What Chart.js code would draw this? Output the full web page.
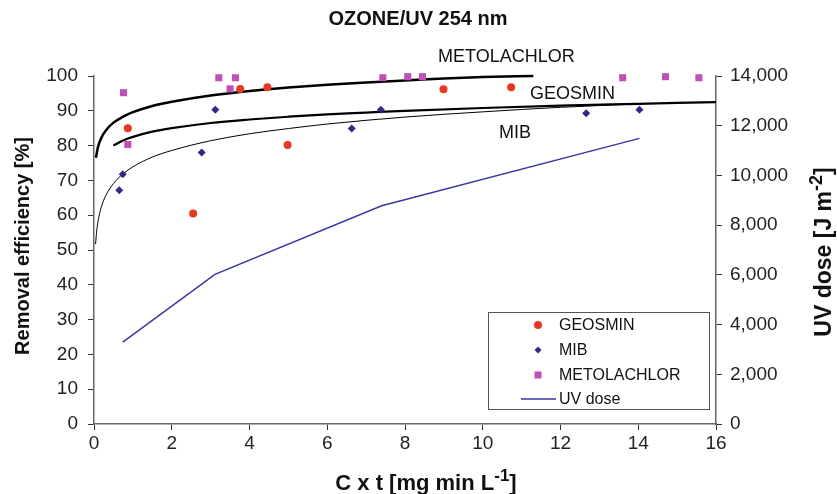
<!DOCTYPE html>
<html>
<head>
<meta charset="utf-8">
<script src="https://cdn.jsdelivr.net/npm/chart.js@4.4.1/dist/chart.umd.min.js"></script>
<style>
html,body{margin:0;padding:0;background:#fff;}
#wrap{width:837px;height:494px;position:relative;}
</style>
</head>
<body>
<div id="wrap"><canvas id="c" width="837" height="494"></canvas></div>
<script>
// ---- data ----
const geosminCt      = [0.87, 2.55, 3.76, 4.46, 4.98, 8.99, 10.73];
const geosminRemoval = [85.0, 60.5, 96.3, 96.8, 80.2, 96.2, 96.8];

const mibCt      = [0.65, 0.74, 2.77, 3.12, 6.63, 7.38, 12.66, 14.03];
const mibRemoval = [67.2, 71.8, 78.0, 90.3, 84.9, 90.3, 89.3, 90.3];

const metoCt      = [0.76, 0.87, 3.21, 3.50, 3.64, 7.43, 8.07, 8.45, 13.60, 14.70, 15.56];
const metoRemoval = [95.2, 80.3, 99.5, 96.3, 99.5, 99.5, 99.8, 99.8, 99.5, 99.8, 99.5];

const uvCt   = [0.74, 3.11, 7.40, 14.03];
const uvDose = [3290, 6020, 8780, 11490];

// fitted trend curves
const metoFitCt      = [0.05, 0.1, 0.2, 0.3, 0.5, 0.75, 1, 1.5, 2, 3, 4, 5, 6, 7, 8, 9, 10, 11.3];
const metoFitRemoval = [76.5, 79.5, 82.5, 84.3, 86.6, 88.3, 89.6, 91.4, 92.6, 94.4, 95.7, 96.7, 97.5, 98.1, 98.7, 99.3, 99.7, 100.0];

const geosminFitCt      = [0.5, 0.75, 1, 1.5, 2, 3, 4, 5, 6, 7, 8, 10, 12, 14, 16];
const geosminFitRemoval = [80.0, 81.5, 82.5, 84.0, 85.0, 86.5, 87.5, 88.3, 89.0, 89.5, 90.0, 90.8, 91.5, 92.0, 92.5];

const mibFitCt      = [0.04, 0.07, 0.1, 0.15, 0.2, 0.3, 0.5, 0.75, 1, 1.5, 2, 3, 4, 5, 6, 8, 10, 12, 14.05];
const mibFitRemoval = [51.7, 55.6, 58.0, 60.8, 62.8, 65.6, 69.1, 71.9, 73.9, 76.7, 78.6, 81.4, 83.4, 84.9, 86.2, 88.2, 89.7, 91.0, 92.0];

const xTickStep = 2, xMin = 0, xMax = 16;
const yTickStep = 10, yMin = 0, yMax = 100;
const y2TickStep = 2000, y2Min = 0, y2Max = 14000;

const titleText = 'OZONE/UV 254 nm';
const yTitle = 'Removal efficiency [%]';
const legendLabels = ['GEOSMIN', 'MIB', 'METOLACHLOR', 'UV dose'];
const curveLabels = ['METOLACHLOR', 'GEOSMIN', 'MIB'];

// ---- helpers ----
const pts = (xs, ys) => xs.map((x, i) => ({x: x, y: ys[i]}));
const FONT = '"Liberation Sans", Arial, Helvetica, sans-serif';
const RED = '#e8381f', NAVY = '#2e2a85', MAG = '#c04fb9', UVC = '#3a36a6';

function drawPieces(ctx, pieces, cx, baseY, size, supSize, supRise) {
  let total = 0;
  pieces.forEach(p => {
    ctx.font = 'bold ' + (p.sup ? supSize : size) + 'px ' + FONT;
    p.w = ctx.measureText(p.t).width;
    total += p.w;
  });
  let x = cx - total / 2;
  ctx.textAlign = 'left';
  ctx.textBaseline = 'alphabetic';
  pieces.forEach(p => {
    ctx.font = 'bold ' + (p.sup ? supSize : size) + 'px ' + FONT;
    ctx.fillText(p.t, x, p.sup ? baseY - supRise : baseY);
    x += p.w;
  });
}

const textPlugin = {
  id: 'texts',
  afterDraw(chart) {
    const ctx = chart.ctx;
    ctx.save();
    ctx.fillStyle = '#111';
    // title
    ctx.font = 'bold 20px ' + FONT;
    ctx.textAlign = 'center';
    ctx.textBaseline = 'middle';
    ctx.fillText(titleText, 418, 19);
    // left title
    ctx.save();
    ctx.translate(23, 246);
    ctx.rotate(-Math.PI / 2);
    ctx.fillText(yTitle, 0, 0);
    ctx.restore();
    // right title
    ctx.save();
    ctx.translate(831, 252);
    ctx.rotate(-Math.PI / 2);
    drawPieces(ctx, [{t: 'UV dose [J m'}, {t: '-2', sup: true}, {t: ']'}], 0, 0, 23, 18, 9);
    ctx.restore();
    // x title
    drawPieces(ctx, [{t: 'C x t [mg min L'}, {t: '-1', sup: true}, {t: ']'}], 426, 490, 22, 17, 9);

    // curve labels
    ctx.font = '18px ' + FONT;
    ctx.fillStyle = '#111';
    ctx.textAlign = 'left';
    ctx.textBaseline = 'middle';
    ctx.fillText(curveLabels[0], 438, 57);
    ctx.fillText(curveLabels[1], 530, 94);
    ctx.fillText(curveLabels[2], 499, 133);

    // legend box
    ctx.strokeStyle = '#555';
    ctx.lineWidth = 1;
    ctx.strokeRect(488.5, 312.5, 221, 97);
    ctx.font = '16px ' + FONT;
    const ys = [325, 350, 375, 399];
    const mx = 538;
    ctx.fillStyle = RED;
    ctx.beginPath(); ctx.arc(mx, ys[0], 4, 0, Math.PI * 2); ctx.fill();
    ctx.fillStyle = NAVY;
    ctx.beginPath();
    ctx.moveTo(mx, ys[1] - 3.5); ctx.lineTo(mx + 3.5, ys[1]); ctx.lineTo(mx, ys[1] + 3.5); ctx.lineTo(mx - 3.5, ys[1]);
    ctx.closePath(); ctx.fill();
    ctx.fillStyle = MAG;
    ctx.fillRect(mx - 3.5, ys[2] - 3.5, 7, 7);
    ctx.strokeStyle = UVC; ctx.lineWidth = 1.5;
    ctx.beginPath(); ctx.moveTo(521, ys[3]); ctx.lineTo(556, ys[3]); ctx.stroke();
    ctx.fillStyle = '#111';
    legendLabels.forEach((l, i) => ctx.fillText(l, 559, ys[i] + 1));
    ctx.restore();
  }
};

const commonScale = {
  grid: {display: true, drawOnChartArea: false, drawTicks: true, tickLength: 6, color: '#333', lineWidth: 1},
  border: {display: true, color: '#666', width: 1.5},
};

new Chart(document.getElementById('c'), {
  type: 'scatter',
  data: {
    datasets: [
      {label: 'GEOSMIN', data: pts(geosminCt, geosminRemoval), yAxisID: 'y', clip: false,
       pointStyle: 'circle', pointRadius: 4, backgroundColor: RED, borderColor: RED, borderWidth: 0, order: 1},
      {label: 'MIB', data: pts(mibCt, mibRemoval), yAxisID: 'y', clip: false,
       pointStyle: 'rectRot', pointRadius: 4, backgroundColor: NAVY, borderColor: NAVY, borderWidth: 0, order: 1},
      {label: 'METOLACHLOR', data: pts(metoCt, metoRemoval), yAxisID: 'y', clip: false,
       pointStyle: 'rect', pointRadius: 5, backgroundColor: MAG, borderColor: MAG, borderWidth: 0, order: 2},
      {label: 'UV dose', type: 'line', data: pts(uvCt, uvDose), yAxisID: 'y2',
       showLine: true, pointRadius: 0, borderColor: UVC, borderWidth: 1.5, fill: false, tension: 0, order: 3},
      {label: 'METOLACHLOR fit', type: 'line', data: pts(metoFitCt, metoFitRemoval), yAxisID: 'y', clip: false,
       showLine: true, pointRadius: 0, borderColor: '#000', borderWidth: 2.5, fill: false, cubicInterpolationMode: 'monotone', order: 3},
      {label: 'GEOSMIN fit', type: 'line', data: pts(geosminFitCt, geosminFitRemoval), yAxisID: 'y',
       showLine: true, pointRadius: 0, borderColor: '#000', borderWidth: 2.2, fill: false, cubicInterpolationMode: 'monotone', order: 3},
      {label: 'MIB fit', type: 'line', data: pts(mibFitCt, mibFitRemoval), yAxisID: 'y',
       showLine: true, pointRadius: 0, borderColor: '#000', borderWidth: 1, fill: false, cubicInterpolationMode: 'monotone', order: 3}
    ]
  },
  options: {
    responsive: false,
    animation: false,
    layout: {padding: {top: 76, left: 0, right: 0, bottom: 0}},
    plugins: {legend: {display: false}, title: {display: false}, tooltip: {enabled: false}},
    scales: {
      x: Object.assign({}, commonScale, {
        type: 'linear', position: 'bottom', min: xMin, max: xMax,
        ticks: {stepSize: xTickStep, color: '#222', font: {family: FONT, size: 19}, padding: 2, maxRotation: 0},
        afterFit: s => { s.height = 70; }
      }),
      y: Object.assign({}, commonScale, {
        type: 'linear', position: 'left', min: yMin, max: yMax,
        ticks: {stepSize: yTickStep, color: '#222', font: {family: FONT, size: 19}, padding: 10},
        afterFit: s => { s.width = 94; }
      }),
      y2: Object.assign({}, commonScale, {
        type: 'linear', position: 'right', min: y2Min, max: y2Max,
        ticks: {stepSize: y2TickStep, color: '#222', font: {family: FONT, size: 19}, padding: 8,
                callback: v => v.toLocaleString('en-US')},
        afterFit: s => { s.width = 121; }
      })
    }
  },
  plugins: [textPlugin]
});
</script>
</body>
</html>
